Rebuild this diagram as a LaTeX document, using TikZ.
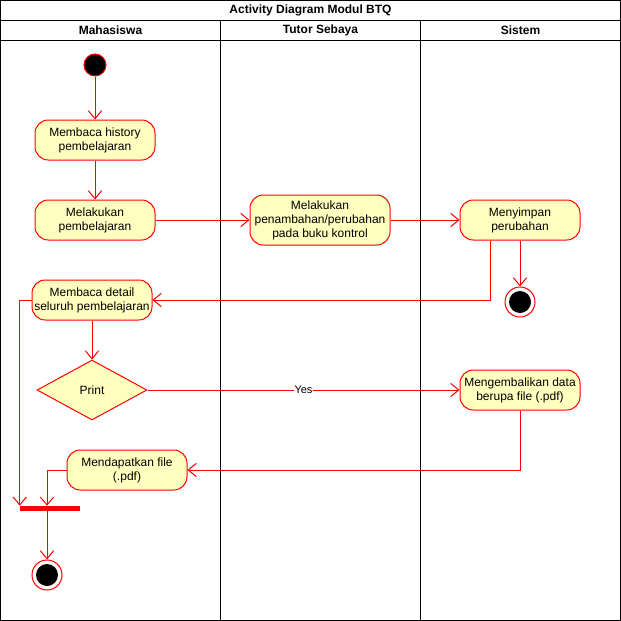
\documentclass[tikz,border=0pt]{standalone}
\usepackage{fontspec}
\setmainfont{Liberation Sans}
\usepackage{tikz}
\usetikzlibrary{positioning,arrows.meta,shapes.geometric,calc}
\definecolor{actfill}{HTML}{FFFFC0}
\tikzset{
  activity/.style={rectangle, rounded corners=10pt, draw=red, fill=actfill,
    line width=0.75pt, align=center, inner sep=1pt, minimum width=90pt,
    minimum height=30pt, font=\fontsize{9}{10.5}\selectfont},
  decision/.style={diamond, draw=red, fill=actfill, line width=0.75pt,
    minimum width=82.5pt, minimum height=45pt, inner sep=0pt,
    font=\fontsize{9}{10.5}\selectfont},
  initial/.style={circle, draw=red, fill=black, line width=0.75pt,
    minimum size=16.5pt, inner sep=0pt},
  final/.style={circle, draw=red, fill=white, line width=0.75pt,
    minimum size=22.5pt, inner sep=0pt,
    path picture={\fill[black] (path picture bounding box.center) circle (8.25pt);}},
  forkbar/.style={rectangle, fill=red, draw=none, minimum width=45pt,
    minimum height=3.75pt, inner sep=0pt},
  flow/.style={draw=red, line width=0.75pt, -{Straight Barb[length=6pt,width=10pt]}},
  pool/.style={draw=black, line width=0.75pt},
  lanehead/.style={font=\bfseries\fontsize{9}{10.5}\selectfont, inner sep=0pt}
}

\begin{document}
\begin{tikzpicture}[x=0.75pt,y=-0.75pt]
  \useasboundingbox (0,0) rectangle (621,621);
  % swimlanes
  \draw[pool] (0.5,0.5) rectangle (620.5,620.5);
  \draw[pool] (0.5,20.5) -- (620.5,20.5);
  \draw[pool] (0.5,40.5) -- (620.5,40.5);
  \draw[pool] (220.5,20.5) -- (220.5,620.5);
  \draw[pool] (420.5,20.5) -- (420.5,620.5);
  \node[lanehead] (title) at (310.5,10.5) {Activity Diagram Modul BTQ};
  \node[lanehead] (mhs) at (110.5,30.5) {Mahasiswa};
  \node[lanehead] (tutor) at (320.5,30.5) {Tutor Sebaya};
  \node[lanehead] (sys) at (520.5,30.5) {Sistem};

  % nodes
  \node[initial] (start) at (95,65) {};
  \node[activity] (history) at (95,140) {Membaca history\\pembelajaran};
  \node[activity] (belajar) at (95,220) {Melakukan\\pembelajaran};
  \node[activity, minimum width=105pt, minimum height=37.5pt] (tambah) at (320,220)
    {Melakukan\\penambahan/perubahan\\pada buku kontrol};
  \node[activity] (simpan) at (520,220) {Menyimpan\\perubahan};
  \node[final] (endsys) at (520,302) {};
  \node[activity] (detail) at (92,300) {Membaca detail\\seluruh pembelajaran};
  \node[decision] (print) at (92,390) {Print};
  \node[activity] (kembali) at (520,390) {Mengembalikan data\\berupa file (.pdf)};
  \node[activity] (dapat) at (127,470) {Mendapatkan file\\(.pdf)};
  \node[forkbar] (join) at (50,508.5) {};
  \node[final] (endmhs) at (47,575) {};

  % flows
  \draw[flow] (start) -- (history);
  \draw[flow] (history) -- (belajar);
  \draw[flow] (belajar) -- (tambah);
  \draw[flow] (tambah) -- (simpan);
  \draw[flow] (simpan) -- (endsys);
  \draw[flow] ([xshift=-22.5pt]simpan.south) |- (detail.east);
  \draw[flow] (detail) -- (print);
  \draw[flow] (detail.west) -| (join.north west);
  \draw[flow] (print) -- node[fill=white, inner sep=0.5pt, font=\fontsize{8.25}{9}\selectfont] {Yes} (kembali);
  \draw[flow] (kembali.south) |- (dapat.east);
  \draw[flow] (dapat.west) -| (join.north -| endmhs);
  \draw[flow] (join.south -| endmhs) -- (endmhs);
\end{tikzpicture}
\end{document}
